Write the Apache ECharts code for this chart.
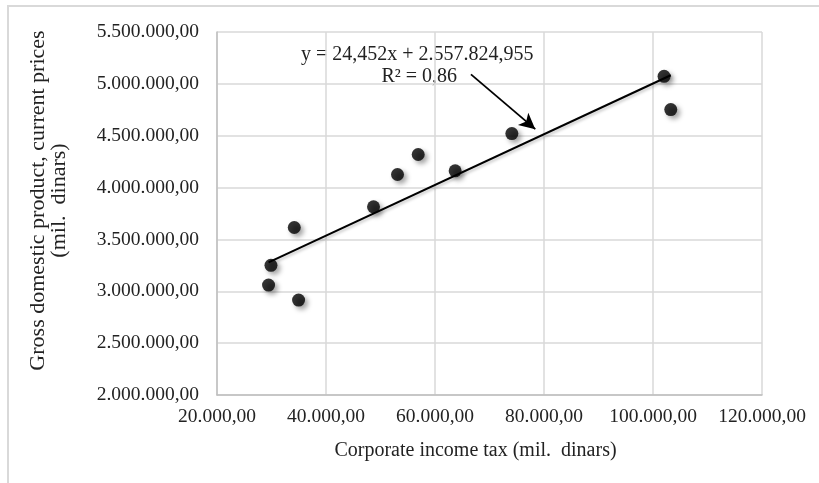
<!DOCTYPE html>
<html>
<head>
<meta charset="utf-8">
<script src="https://cdn.jsdelivr.net/npm/echarts@6/dist/echarts.min.js"></script>
<style>
html,body{margin:0;padding:0;background:#fff;}
#chart{width:819px;height:483px;}
</style>
</head>
<body>
<div id="chart"></div>
<script>
// Corporate income tax (mil. dinars)
var taxValues = [29460, 29900, 34180, 34970, 48720, 53120, 56920, 63700, 74100, 102030, 103260];
// Gross domestic product, current prices (mil. dinars)
var gdpValues = [3060000, 3250000, 3615000, 2915000, 3814000, 4126000, 4319000, 4161000, 4521000, 5073000, 4752000];
// Linear trend line coefficients
var trendSlope = 24.452;
var trendIntercept = 2557824.955;
var equationText = 'y = 24,452x + 2.557.824,955';
var r2Text = 'R² = 0,86';
var xTitle = 'Corporate income tax (mil.  dinars)';
var yTitle = 'Gross domestic product, current prices\n(mil.  dinars)';
// Arrow annotation (data coordinates)
var arrowStart = [66600, 5092000];
var arrowEnd = [78400, 4563000];

function fmt(v) {
  var s = Math.round(v).toString();
  s = s.replace(/\B(?=(\d{3})+(?!\d))/g, '.');
  return s + ',00';
}

var points = taxValues.map(function (x, i) { return [x, gdpValues[i]]; });
var xMin = Math.min.apply(null, taxValues);
var xMax = Math.max.apply(null, taxValues);
var trend = [[xMin, trendSlope * xMin + trendIntercept], [xMax, trendSlope * xMax + trendIntercept]];

var FONT = '"Liberation Serif", "DejaVu Serif", serif';
var chart = echarts.init(document.getElementById('chart'), null, {renderer: 'canvas'});
chart.setOption({
  backgroundColor: '#ffffff',
  animation: false,
  grid: {left: 217, right: 57, top: 32, bottom: 88},
  xAxis: {
    type: 'value', min: 20000, max: 120000, interval: 20000,
    name: xTitle, nameLocation: 'middle', nameGap: 46,
    nameTextStyle: {fontFamily: FONT, fontSize: 20, color: '#222', padding: [0, 28, 0, 0]},
    axisLine: {show: true, lineStyle: {color: '#bfbfbf', width: 1.5}},
    axisTick: {show: false},
    axisLabel: {formatter: fmt, fontFamily: FONT, fontSize: 19.5, color: '#222', margin: 12},
    splitLine: {show: true, lineStyle: {color: '#d9d9d9', width: 1.5}}
  },
  yAxis: {
    type: 'value', min: 2000000, max: 5500000, interval: 500000,
    name: yTitle, nameLocation: 'middle', nameGap: 147, nameRotate: 90,
    nameTextStyle: {fontFamily: FONT, fontSize: 22, color: '#222', lineHeight: 21, align: 'center', padding: [0, 0, 0, 26]},
    axisLine: {show: true, lineStyle: {color: '#bfbfbf', width: 1.5}},
    axisTick: {show: false},
    axisLabel: {formatter: fmt, fontFamily: FONT, fontSize: 19.5, color: '#222', margin: 18},
    splitLine: {show: true, lineStyle: {color: '#d9d9d9', width: 1.5}}
  },
  graphic: [
    {type: 'rect', silent: true, shape: {x: 8, y: 6, width: 900, height: 600},
     style: {fill: 'none', stroke: '#d9d9d9', lineWidth: 2}, z: -10},
    {type: 'text', left: 301, top: 45, silent: true,
     style: {text: equationText, font: '20px ' + FONT, fill: '#222'}},
    {type: 'text', right: 819 - 457, top: 67, silent: true,
     style: {text: r2Text, font: '20px ' + FONT, fill: '#222', textAlign: 'right'}}
  ],
  series: [
    {
      type: 'line', data: trend, symbol: 'none', silent: true, z: 2,
      lineStyle: {color: '#000', width: 2, shadowColor: 'rgba(0,0,0,0.25)', shadowBlur: 3, shadowOffsetX: 1, shadowOffsetY: 2},
      markLine: {
        silent: true, symbol: ['none', 'arrow'], symbolSize: [12, 16], label: {show: false},
        lineStyle: {color: '#000', width: 1.8, type: 'solid'},
        data: [[{coord: arrowStart}, {coord: arrowEnd}]]
      }
    },
    {
      type: 'scatter', data: points, symbol: 'circle', symbolSize: 13, z: 3,
      itemStyle: {color: '#000', shadowColor: 'rgba(0,0,0,0.45)', shadowBlur: 5, shadowOffsetX: 3, shadowOffsetY: 3}
    }
  ]
});
</script>
</body>
</html>
